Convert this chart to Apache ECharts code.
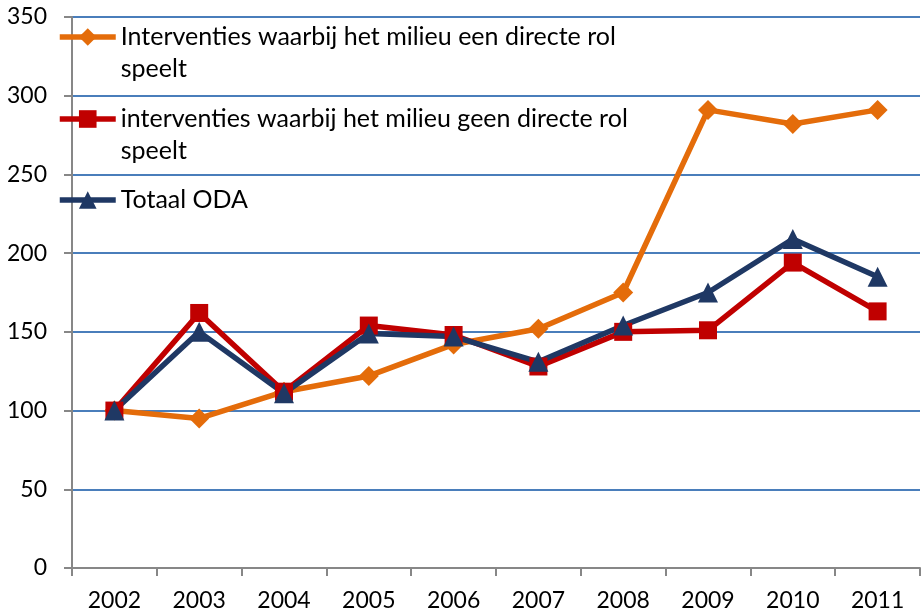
<!DOCTYPE html>
<html><head><meta charset="utf-8">
<script src="https://cdn.jsdelivr.net/npm/echarts@6/dist/echarts.min.js"></script>
<style>html,body{margin:0;padding:0;background:#fff}#c{width:922px;height:615px}</style>
</head><body><div id="c"></div>
<script>
const years = ['2002','2003','2004','2005','2006','2007','2008','2009','2010','2011'];
const nameA = 'Interventies waarbij het milieu een directe rol speelt';
const nameB = 'interventies waarbij het milieu geen directe rol speelt';
const nameC = 'Totaal ODA';
const seriesA = [100, 95, 112, 122, 142, 152, 175, 291, 282, 291];
const seriesB = [100, 162, 112, 154, 148, 128, 150, 151, 194, 163];
const seriesC = [100, 150, 111, 149, 147, 131, 154, 175, 209, 185];

const chart = echarts.init(document.getElementById('c'));
const font = 'Lato, "Open Sans", sans-serif';
function mk(name, data, color, symbol, size) {
  return {name, type:'line', data, symbol, symbolSize:size,
    lineStyle:{color, width:5.5}, itemStyle:{color}, color, animation:false};
}
function leg(name, top, twoLines) {
  return {
    orient:'vertical', left:57, top, padding:0, itemWidth:56, itemHeight:22,
    data:[name],
    lineStyle:{width:5.5},
    formatter: n => twoLines ? '\n' + n.replace(' speelt', '\nspeelt') : n,
    textStyle:{fontFamily:font, fontSize:25, color:'#000', lineHeight:32}
  };
}
chart.setOption({
  animation:false,
  grid:{left:72, right:2, top:17, bottom:47},
  legend:[leg(nameA, -11, true), leg(nameB, 71, true), leg(nameC, 184, false)],
  xAxis:{type:'category', data:years, boundaryGap:true,
    axisLine:{lineStyle:{color:'#878787', width:2}},
    axisTick:{show:true, length:8, lineStyle:{color:'#878787', width:2}},
    axisLabel:{fontFamily:font, fontSize:23, color:'#000', margin:21}
  },
  yAxis:{type:'value', min:0, max:350, interval:50,
    axisLine:{show:true, lineStyle:{color:'#878787', width:2}},
    axisTick:{show:true, length:8, lineStyle:{color:'#878787', width:2}},
    splitLine:{lineStyle:{color:'#4A7EBB', width:2}},
    axisLabel:{fontFamily:font, fontSize:23, color:'#000', margin:25}
  },
  series:[
    mk(nameA, seriesA, '#E46C0A', 'diamond', 20),
    mk(nameB, seriesB, '#C00000', 'rect', 18),
    mk(nameC, seriesC, '#1F3864', 'triangle', 20)
  ]
});
</script></body></html>
